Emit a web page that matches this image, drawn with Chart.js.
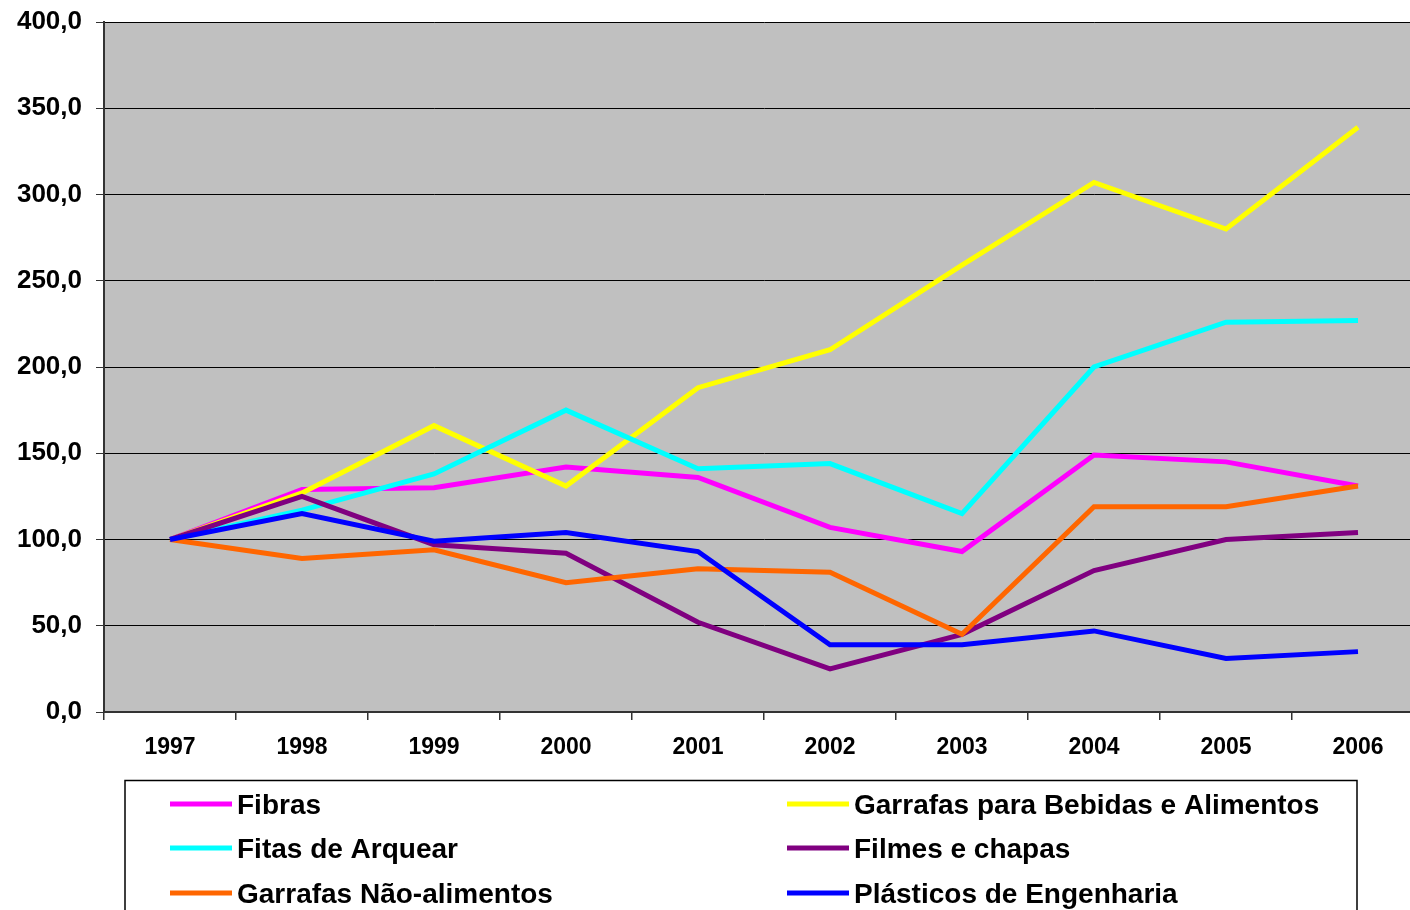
<!DOCTYPE html>
<html>
<head>
<meta charset="utf-8">
<script src="https://cdn.jsdelivr.net/npm/chart.js@4/dist/chart.umd.min.js"></script>
<style>
  html, body { margin: 0; padding: 0; background: #fff; overflow: hidden; }
  #wrap { width: 1410px; height: 910px; overflow: hidden; }
</style>
</head>
<body>
<div id="wrap"><canvas id="chart" width="1424" height="910"></canvas></div>
<script>
// anos e séries (índice 1997 = 100)
const anos = ['1997', '1998', '1999', '2000', '2001', '2002', '2003', '2004', '2005', '2006'];
const fibras = [100, 129, 130, 142, 136, 107, 93, 149, 145, 131];
const garrafasBebidas = [100, 127, 166, 131, 188, 210, 259, 307, 280, 339];
const fitasArquear = [100, 117, 138, 175, 141, 144, 115, 200, 226, 227];
const filmesChapas = [100, 125, 97, 92, 52, 25, 45, 82, 100, 104];
const garrafasNaoAlim = [100, 89, 94, 75, 83, 81, 45, 119, 119, 131];
const plasticosEng = [100, 115, 99, 104, 93, 39, 39, 47, 31, 35];

const fonte = '"Liberation Sans", Arial, sans-serif';

// fundo cinza da área do gráfico
const fundoPlugin = {
    id: 'fundo',
    beforeDraw(chart) {
        const { ctx, chartArea: a } = chart;
        ctx.save();
        ctx.fillStyle = '#C0C0C0';
        ctx.fillRect(a.left, a.top, a.right - a.left, a.bottom - a.top);
        ctx.restore();
    }
};

// legenda em duas colunas com moldura, como no original
const legendaPlugin = {
    id: 'legenda',
    afterDraw(chart) {
        const ctx = chart.ctx;
        const sets = chart.data.datasets;
        ctx.save();
        ctx.strokeStyle = '#000';
        ctx.lineWidth = 1.5;
        ctx.beginPath();
        ctx.moveTo(125, 915);
        ctx.lineTo(125, 780.5);
        ctx.lineTo(1357, 780.5);
        ctx.lineTo(1357, 915);
        ctx.stroke();
        ctx.font = 'bold 28px ' + fonte;
        ctx.textBaseline = 'middle';
        ctx.fillStyle = '#000';
        const colX = [170, 787];
        const rowY = [804, 848, 893];
        sets.forEach((ds, i) => {
            const x = colX[i % 2];
            const y = rowY[Math.floor(i / 2)];
            ctx.strokeStyle = ds.borderColor;
            ctx.lineWidth = 5;
            ctx.beginPath();
            ctx.moveTo(x, y);
            ctx.lineTo(x + 62, y);
            ctx.stroke();
            ctx.fillText(ds.label, x + 67, y + 2);
        });
        ctx.restore();
    }
};

// a última série fica por cima, como no Excel
function serie(label, data, cor, ordem) {
    return {
        label: label,
        data: data,
        borderColor: cor,
        backgroundColor: cor,
        borderWidth: 5,
        pointRadius: 0,
        tension: 0,
        fill: false,
        order: ordem
    };
}

new Chart(document.getElementById('chart'), {
    type: 'line',
    data: {
        labels: anos,
        datasets: [
            serie('Fibras', fibras, '#FF00FF', 6),
            serie('Garrafas para Bebidas e Alimentos', garrafasBebidas, '#FFFF00', 5),
            serie('Fitas de Arquear', fitasArquear, '#00FFFF', 4),
            serie('Filmes e chapas', filmesChapas, '#800080', 3),
            serie('Garrafas Não-alimentos', garrafasNaoAlim, '#FF6600', 2),
            serie('Plásticos de Engenharia', plasticosEng, '#0000FF', 1)
        ]
    },
    options: {
        responsive: false,
        animation: false,
        layout: { padding: { top: 22, right: 0, left: 0, bottom: 0 } },
        plugins: {
            legend: { display: false },
            tooltip: { enabled: false }
        },
        scales: {
            x: {
                offset: true,
                grid: {
                    offset: true,
                    drawOnChartArea: false,
                    drawTicks: true,
                    tickLength: 8,
                    color: '#333',
                    lineWidth: 1.5
                },
                border: { color: '#333', width: 2 },
                ticks: {
                    color: '#000',
                    padding: 14,
                    maxRotation: 0,
                    font: { family: fonte, size: 23, weight: 'bold' }
                },
                afterFit(scale) { scale.height = 198; }
            },
            y: {
                min: 0,
                max: 400,
                grid: {
                    color: '#000',
                    lineWidth: 1,
                    tickLength: 8,
                    tickColor: '#333'
                },
                border: { color: '#333', width: 2 },
                ticks: {
                    stepSize: 50,
                    color: '#000',
                    padding: 14,
                    font: { family: fonte, size: 26, weight: 'bold' },
                    callback: v => v.toFixed(1).replace('.', ',')
                },
                afterFit(scale) {
                    scale.width = 104;
                    scale.paddingTop = 0;
                    scale.paddingBottom = 0;
                }
            }
        }
    },
    plugins: [fundoPlugin, legendaPlugin]
});
</script>
</body>
</html>
